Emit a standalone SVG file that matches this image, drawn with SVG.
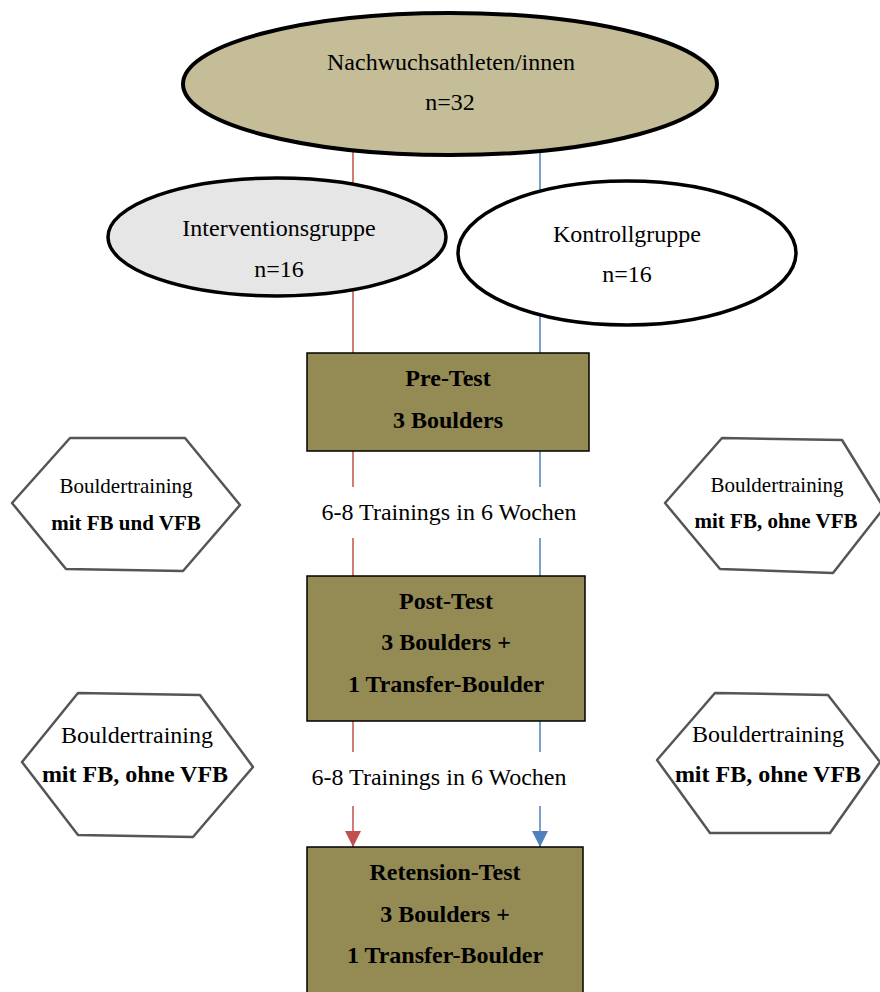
<svg xmlns="http://www.w3.org/2000/svg" width="880" height="992" viewBox="0 0 880 992">
<style>
.t{font-family:"Liberation Serif","Times New Roman",serif;fill:#000;text-anchor:middle}
.b{font-weight:bold}
.box{fill:#948a54;stroke:#000;stroke-width:1.5}
.hex{fill:#fff;stroke:#555;stroke-width:2.5;stroke-linejoin:round}
.red{stroke:#c0504d;stroke-width:1.5;fill:none}
.blue{stroke:#4f81bd;stroke-width:1.5;fill:none}
</style>
<defs>
<marker id="ar" markerWidth="16" markerHeight="16" viewBox="0 0 16 16" refX="16" refY="8" orient="auto" markerUnits="userSpaceOnUse"><path d="M0,0 L16,8 L0,16 z" fill="#c0504d"/></marker>
<marker id="ab" markerWidth="16" markerHeight="16" viewBox="0 0 16 16" refX="16" refY="8" orient="auto" markerUnits="userSpaceOnUse"><path d="M0,0 L16,8 L0,16 z" fill="#4f81bd"/></marker>
</defs>
<rect width="880" height="992" fill="#fff"/>
<g id="connectors">
<line class="red" x1="353" y1="150" x2="353" y2="353"/>
<line class="blue" x1="540" y1="150" x2="540" y2="353"/>
<line class="red" x1="353" y1="451" x2="353" y2="487"/>
<line class="blue" x1="540" y1="451" x2="540" y2="487"/>
<line class="red" x1="353" y1="538" x2="353" y2="576"/>
<line class="blue" x1="540" y1="538" x2="540" y2="576"/>
<line class="red" x1="353" y1="721" x2="353" y2="752"/>
<line class="blue" x1="540" y1="721" x2="540" y2="752"/>
<line class="red" x1="353" y1="806" x2="353" y2="847" marker-end="url(#ar)"/>
<line class="blue" x1="540" y1="806" x2="540" y2="847" marker-end="url(#ab)"/>
</g>
<g id="gesamt">
<ellipse cx="450" cy="84" rx="267" ry="71" fill="#c4bd97" stroke="#000" stroke-width="4"/>
<text class="t" x="451" y="70" font-size="24">Nachwuchsathleten/innen</text>
<text class="t" x="450" y="110" font-size="24">n=32</text>
</g>
<g id="intervention">
<ellipse cx="277" cy="237" rx="169" ry="59" fill="#e6e6e6" stroke="#000" stroke-width="3.5"/>
<text class="t" x="279" y="236" font-size="24">Interventionsgruppe</text>
<text class="t" x="279" y="277" font-size="24">n=16</text>
</g>
<g id="kontroll">
<ellipse cx="627" cy="253" rx="169" ry="72" fill="#fff" stroke="#000" stroke-width="3.5"/>
<text class="t" x="627" y="242" font-size="24">Kontrollgruppe</text>
<text class="t" x="627" y="282" font-size="24">n=16</text>
</g>
<g id="pretest">
<rect class="box" x="307" y="353" width="282" height="98"/>
<text class="t b" x="448" y="386" font-size="24">Pre-Test</text>
<text class="t b" x="448" y="428" font-size="24">3 Boulders</text>
</g>
<text class="t" x="449" y="520" font-size="24">6-8 Trainings in 6 Wochen</text>
<g id="posttest">
<rect class="box" x="307" y="576" width="278" height="145"/>
<text class="t b" x="446" y="609" font-size="24">Post-Test</text>
<text class="t b" x="446" y="650" font-size="24">3 Boulders +</text>
<text class="t b" x="446" y="692" font-size="24">1 Transfer-Boulder</text>
</g>
<text class="t" x="439" y="785" font-size="24">6-8 Trainings in 6 Wochen</text>
<g id="retensiontest">
<rect class="box" x="307" y="847" width="276" height="160"/>
<text class="t b" x="445" y="880" font-size="24">Retension-Test</text>
<text class="t b" x="445" y="922" font-size="24">3 Boulders +</text>
<text class="t b" x="445" y="963" font-size="24">1 Transfer-Boulder</text>
</g>
<g id="hex1">
<polygon class="hex" points="12,503 70,438 185,438 240,505 183,571 66,569"/>
<text class="t" x="126" y="493" font-size="21">Bouldertraining</text>
<text class="t b" x="126" y="530" font-size="21">mit FB und VFB</text>
</g>
<g id="hex2">
<polygon class="hex" points="665,503 722,438 842,440 884,508 833,573 720,569"/>
<text class="t" x="777" y="492" font-size="21">Bouldertraining</text>
<text class="t b" x="776" y="528" font-size="21">mit FB, ohne VFB</text>
</g>
<g id="hex3">
<polygon class="hex" points="22,762 78,693 200,695 253,767 193,837 78,835"/>
<text class="t" x="137" y="743" font-size="24">Bouldertraining</text>
<text class="t b" x="135" y="782" font-size="24">mit FB, ohne VFB</text>
</g>
<g id="hex4">
<polygon class="hex" points="657,760 715,693 828,695 880,762 830,833 710,833"/>
<text class="t" x="768" y="742" font-size="24">Bouldertraining</text>
<text class="t b" x="768" y="782" font-size="24">mit FB, ohne VFB</text>
</g>
</svg>
